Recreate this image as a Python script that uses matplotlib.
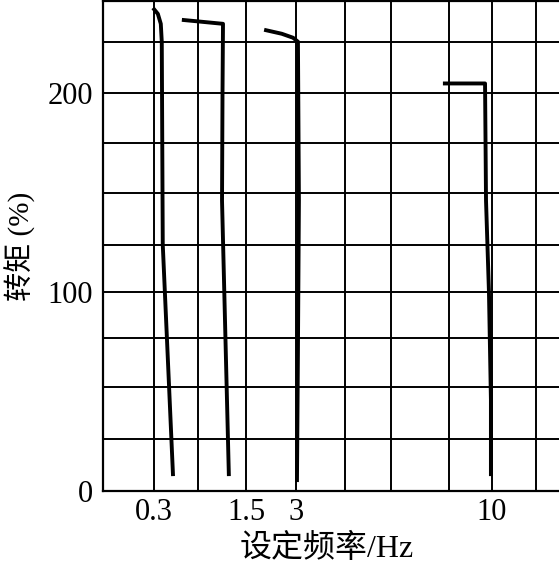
import matplotlib
matplotlib.use("Agg")
import matplotlib.pyplot as plt

# x positions are in "grid units" of the drawn chart (non-linear frequency axis)
grid_x = [1.04, 1.94, 2.92, 3.94, 4.94, 5.88, 7.06, 7.94, 8.84]
grid_y = [26.1, 52.3, 76.9, 100, 123.6, 149.7, 174.9, 200, 226.1]

xtick_pos = [1.04, 2.92, 3.94, 7.94]
xtick_labels = ["0.3", "1.5", "3", "10"]
ytick_vals = [0, 100, 200]

c1_x = [1.02, 1.12, 1.18, 1.20, 1.22, 1.43]
c1_y = [243, 240, 235, 226, 124, 7.5]
c2_x = [1.61, 2.45, 2.44, 2.43, 2.57]
c2_y = [237, 235, 200, 146, 7.5]
c3_x = [3.29, 3.65, 3.88, 3.98, 4.00, 3.98, 3.96]
c3_y = [232, 230, 228, 226, 146, 71, 4.5]
c4_x = [6.94, 7.80, 7.82, 7.88, 7.92, 7.92]
c4_y = [205, 205, 146, 100, 46, 7.5]

fig = plt.figure(figsize=(5.59, 5.63), dpi=100)
ax = fig.add_axes([103/559, 72/563, 456/559, 491/563 - 0.001])
ax.set_xlim(0, 9.31)
ax.set_ylim(0, 246.7)

for gx in grid_x:
    ax.axvline(gx, color="black", lw=1.4, zorder=1)
for gy in grid_y:
    ax.axhline(gy, color="black", lw=1.4, zorder=1)

for xs, ys in [(c1_x, c1_y), (c2_x, c2_y), (c3_x, c3_y), (c4_x, c4_y)]:
    ax.plot(xs, ys, color="black", lw=2.8, solid_capstyle="butt", zorder=3)

for s in ["left", "bottom", "top"]:
    ax.spines[s].set_linewidth(1.6)
ax.spines["right"].set_visible(False)

ax.set_xticks(xtick_pos)
ax.set_xticklabels(xtick_labels)
ax.set_yticks(ytick_vals)
ax.set_yticklabels([str(v) for v in ytick_vals])
ax.tick_params(length=0, labelsize=22)
ax.tick_params(axis="y", pad=7)
ax.tick_params(axis="x", pad=5)
for lab in ax.get_xticklabels() + ax.get_yticklabels():
    lab.set_family(["Liberation Serif"])

fig.text(327/559, 1 - 549/563, "设定频率/Hz", ha="center", va="center",
         family=["Liberation Serif", "Noto Sans CJK SC"], fontsize=23)
fig.text(20/559, 1 - 246/563, "转矩 (%)", rotation=90, ha="center", va="center",
         family=["Liberation Serif", "Noto Sans CJK SC"], fontsize=21)

fig.savefig("out.png", dpi=100)
